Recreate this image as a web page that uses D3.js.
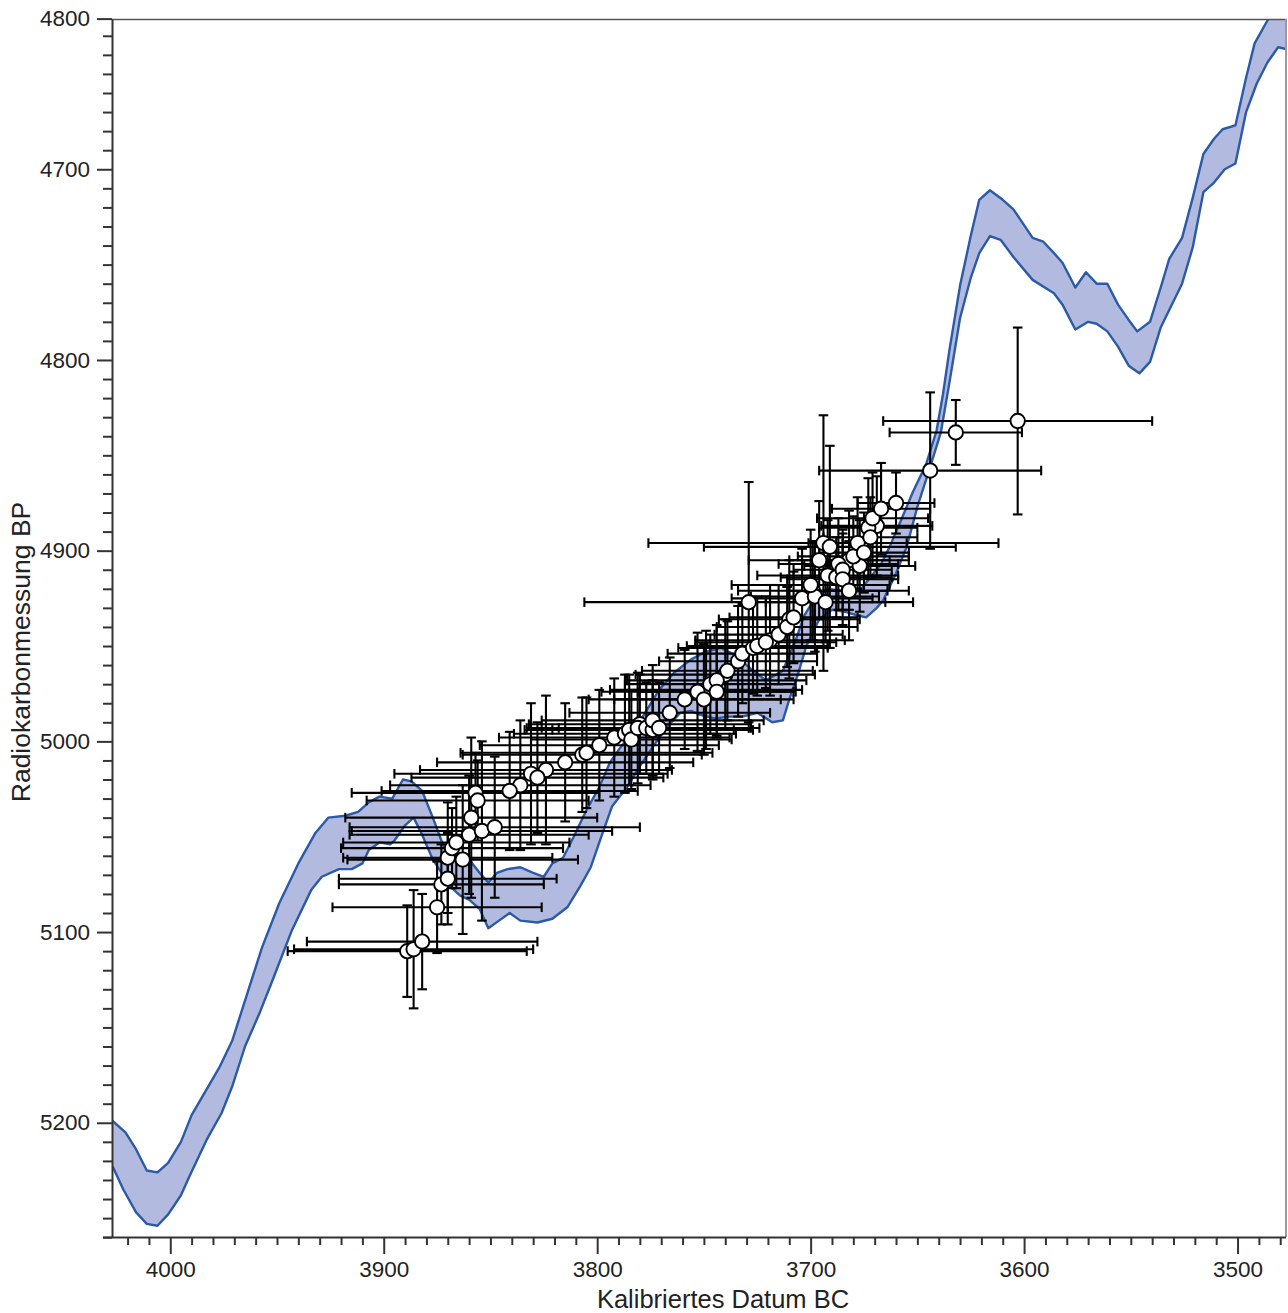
<!DOCTYPE html>
<html><head><meta charset="utf-8">
<script src="https://cdn.jsdelivr.net/npm/d3@7"></script>
<style>
body{margin:0;background:#fff;}
text{font-family:"Liberation Sans",Arial,Helvetica,sans-serif;}
</style>
</head><body>
<svg id="chart" width="1288" height="1313"></svg>
<script>
// ---- axis ticks ----
const xMajorTicks = [4000, 3900, 3800, 3700, 3600, 3500];
const xTickLabels = ["4000", "3900", "3800", "3700", "3600", "3500"];
const yTickValues = [4621, 4700, 4800, 4900, 5000, 5100, 5200];
const yTickLabels = ["4800", "4700", "4800", "4900", "5000", "5100", "5200"];
const xTitle = "Kalibriertes Datum BC";
const yTitle = "Radiokarbonmessung BP";

// ---- calibration curve band (upper / lower edge) ----
const upperCal = [4027,4021,4016,4011,4006,4001,3995,3990,3977,3971,3963,3957,3949,3940,3932,3926,3918,3912,3907,3902,3896,3891,3887,3882,3877,3873,3870,3864,3860,3855,3851,3847,3842,3836,3830,3825,3821,3816,3811,3805,3799,3794,3789,3783,3777,3771,3764,3756,3749,3742,3735,3728,3721,3713,3707,3703,3698,3692,3686,3682,3677,3672,3667,3663,3658,3652,3646,3641,3638,3635,3630,3625,3621,3616,3610,3605,3596,3591,3586,3582,3576,3571,3566,3561,3556,3551,3547,3541,3536,3532,3526,3521,3516,3511,3507,3501,3496,3492,3486,3470];
const upperBP = [5199,5205,5214,5225,5226,5221,5210,5196,5171,5157,5129,5108,5085,5064,5048,5040,5039,5037,5032,5029,5030,5020,5021,5026,5040,5052,5059,5059,5062,5069,5074,5069,5067,5066,5069,5071,5064,5061,5050,5036,5024,5011,5003,4995,4984,4973,4964,4957,4953,4951,4955,4962,4968,4963,4947,4934,4925,4920,4921,4923,4921,4914,4907,4898,4885,4869,4855,4837,4818,4795,4761,4735,4716,4711,4716,4721,4736,4738,4744,4749,4762,4754,4760,4760,4771,4779,4785,4780,4762,4747,4736,4715,4692,4684,4679,4677,4652,4634,4622,4597];
const lowerCal = [4027,4022,4016,4011,4006,4001,3995,3991,3983,3976,3971,3965,3958,3952,3943,3934,3929,3921,3915,3910,3907,3902,3897,3895,3890,3886,3882,3877,3874,3869,3864,3860,3855,3851,3846,3841,3836,3828,3821,3814,3808,3803,3799,3793,3786,3780,3774,3767,3761,3756,3752,3745,3738,3732,3725,3718,3713,3710,3706,3702,3696,3690,3684,3678,3674,3669,3666,3660,3655,3650,3644,3639,3635,3630,3625,3621,3616,3611,3605,3596,3586,3582,3576,3570,3566,3561,3556,3551,3546,3541,3536,3526,3521,3516,3511,3506,3501,3496,3491,3486,3481,3477,3470];
const lowerBP = [5223,5235,5247,5253,5254,5248,5238,5228,5209,5195,5181,5160,5142,5125,5099,5078,5071,5067,5067,5064,5057,5053,5054,5052,5044,5040,5049,5062,5067,5076,5081,5083,5088,5098,5094,5090,5094,5095,5093,5087,5076,5066,5053,5034,5024,5013,5003,4992,4985,4984,4986,4988,4987,4987,4985,4990,4989,4978,4965,4950,4936,4931,4932,4934,4935,4930,4926,4912,4898,4877,4856,4838,4812,4778,4757,4744,4735,4737,4746,4758,4765,4771,4784,4780,4781,4785,4793,4803,4807,4801,4783,4760,4741,4712,4707,4700,4697,4670,4655,4644,4636,4637,4638];

// ---- samples: calibrated mid-point (BC) ± range, radiocarbon age BP ± error ----
const sampleCal = [3863,3860,3836,3824,3799,3792,3780,3766,3759,3749,3740,3719,3710,3699,3692,3682,3677,3669,
  3889,3886,3882,3875,3873,3870,3870,3868,3866,3859,3857,3856,3854,3848,3841,3831,3828,3815,3807,3805,3787,3785,3784,3781,3777,3774,3774,3771,3753,3750,3747,3744,3744,3739,3734,3732,3729,3727,3725,3721,3715,3711,3708,3704,3698,3694,3693,3691,3688,3687,3685,3685,3680,3678,3675,3673,3672,3671,3667,3660,3644,3632,3603,3696,3700,3682];
const sampleCalErr = [54,56,61,59,56,54,52,47,45,45,42,35,33,35,33,28,26,26,
  56,56,54,49,48,51,49,52,53,59,58,52,61,68,60,64,59,60,56,59,52,49,47,52,49,47,52,47,45,42,40,42,37,40,37,35,77,35,33,33,30,33,30,33,30,82,28,59,26,28,23,26,26,23,21,23,22,26,23,18,52,31,63,33,37,28];
const sampleBP = [5062,5049,5023,5015,5002,4998,4991,4985,4978,4973,4965,4947,4936,4921,4913,4905,4908,4887,
  5110,5109,5105,5087,5075,5072,5061,5056,5053,5040,5027,5031,5047,5045,5026,5017,5019,5011,5007,5006,4996,4994,4999,4993,4993,4994,4989,4993,4974,4978,4970,4968,4974,4963,4958,4954,4927,4951,4950,4948,4944,4940,4935,4925,4924,4896,4927,4898,4914,4907,4910,4915,4903,4896,4901,4888,4893,4883,4878,4875,4858,4838,4832,4905,4918,4921];
const sampleBPErr = [39,31,34,39,29,31,26,29,26,31,29,29,31,26,29,26,24,26,
  24,31,25,24,21,24,29,21,24,42,21,21,47,37,31,37,29,31,30,29,31,29,26,29,24,26,29,24,31,29,26,29,24,26,29,26,63,24,26,24,26,21,24,26,29,67,21,53,21,24,21,24,21,24,21,26,21,24,24,16,41,17,49,31,29,26];

// ---- layout ----
const L = 112, R = 1286, T = 19, B = 1237;
const svg = d3.select("#chart");
const x = d3.scaleLinear().domain([4027.3, 3477.3]).range([L, R]);
const y = d3.scaleLinear().domain([4621.2, 5259.9]).range([T, B]);

svg.append("defs").append("clipPath").attr("id", "plotclip")
  .append("rect").attr("x", L).attr("y", T).attr("width", R - L).attr("height", B - T);

const plot = svg.append("g").attr("clip-path", "url(#plotclip)");

// band
const upperPts = upperCal.map((c, i) => [c, upperBP[i]]);
const lowerPts = lowerCal.map((c, i) => [c, lowerBP[i]]);
const line = d3.line().x(d => x(d[0])).y(d => y(d[1]));
plot.append("path")
  .attr("d", line(upperPts.concat(lowerPts.slice().reverse())) + "Z")
  .attr("fill", "#b3badf").attr("stroke", "none");
[upperPts, lowerPts].forEach(pts => {
  plot.append("path").attr("d", line(pts))
    .attr("fill", "none").attr("stroke", "#2b5aa6").attr("stroke-width", 2.4)
    .attr("stroke-linejoin", "round");
});

// error bars
const samples = sampleCal.map((c, i) => ({c, ce: sampleCalErr[i], b: sampleBP[i], be: sampleBPErr[i]}));
const eb = plot.append("g").attr("stroke", "#000").attr("stroke-width", 2.1);
const cap = 4.8;
samples.forEach(s => {
  const cx = x(s.c), cy = y(s.b);
  const x1 = x(s.c + s.ce), x2 = x(s.c - s.ce);
  const y1 = y(s.b - s.be), y2 = y(s.b + s.be);
  eb.append("line").attr("x1", x1).attr("x2", x2).attr("y1", cy).attr("y2", cy);
  eb.append("line").attr("x1", x1).attr("x2", x1).attr("y1", cy - cap).attr("y2", cy + cap);
  eb.append("line").attr("x1", x2).attr("x2", x2).attr("y1", cy - cap).attr("y2", cy + cap);
  eb.append("line").attr("x1", cx).attr("x2", cx).attr("y1", y1).attr("y2", y2);
  eb.append("line").attr("x1", cx - cap).attr("x2", cx + cap).attr("y1", y1).attr("y2", y1);
  eb.append("line").attr("x1", cx - cap).attr("x2", cx + cap).attr("y1", y2).attr("y2", y2);
});
plot.append("g").selectAll("circle").data(samples).join("circle")
  .attr("cx", d => x(d.c)).attr("cy", d => y(d.b)).attr("r", 7.2)
  .attr("fill", "#fff").attr("stroke", "#000").attr("stroke-width", 1.9);

// frame (top + right)
svg.append("line").attr("x1", L).attr("x2", R + 1).attr("y1", T + 0.5).attr("y2", T + 0.5)
  .attr("stroke", "#555").attr("stroke-width", 1.5);
svg.append("line").attr("x1", R).attr("x2", R).attr("y1", T).attr("y2", B)
  .attr("stroke", "#9a9a9a").attr("stroke-width", 2);

// axes
const axisColor = "#333";
function styleAxis(g) {
  g.selectAll("path.domain").attr("stroke", axisColor).attr("stroke-width", 2);
  g.selectAll(".tick line").attr("stroke", axisColor).attr("stroke-width", 2);
  g.selectAll(".tick text").attr("fill", "#222").style("font-size", "22.5px")
    .style("font-family", "'Liberation Sans', Arial, sans-serif");
}
const xMinor = d3.range(4020, 3470, -10).filter(v => v % 100 !== 0);
const yMinor = d3.range(4630, 5261, 10).filter(v => v % 100 !== 0);

const gxMinor = svg.append("g").attr("transform", `translate(0,${B})`)
  .call(d3.axisBottom(x).tickValues(xMinor).tickSize(8).tickFormat(""));
gxMinor.select("path.domain").remove();
styleAxis(gxMinor);
const gx = svg.append("g").attr("transform", `translate(0,${B})`)
  .call(d3.axisBottom(x).tickValues(xMajorTicks).tickSize(17).tickSizeOuter(0).tickPadding(7)
    .tickFormat((d, i) => xTickLabels[i]));
styleAxis(gx);
gx.select("path.domain").attr("d", `M${L - 9},0.5H${R}`);

const gyMinor = svg.append("g").attr("transform", `translate(${L},0)`)
  .call(d3.axisLeft(y).tickValues(yMinor).tickSize(9).tickFormat(""));
gyMinor.select("path.domain").remove();
styleAxis(gyMinor);
const gy = svg.append("g").attr("transform", `translate(${L},0)`)
  .call(d3.axisLeft(y).tickValues(yTickValues).tickSize(15).tickSizeOuter(0).tickPadding(7)
    .tickFormat((d, i) => yTickLabels[i]));
styleAxis(gy);

// titles
svg.append("text").attr("x", 723).attr("y", 1308).attr("text-anchor", "middle")
  .attr("fill", "#222").style("font-size", "25.5px").text(xTitle);
svg.append("text").attr("transform", `translate(30,652) rotate(-90)`).attr("text-anchor", "middle")
  .attr("fill", "#222").style("font-size", "26.5px").text(yTitle);
</script>
</body></html>
